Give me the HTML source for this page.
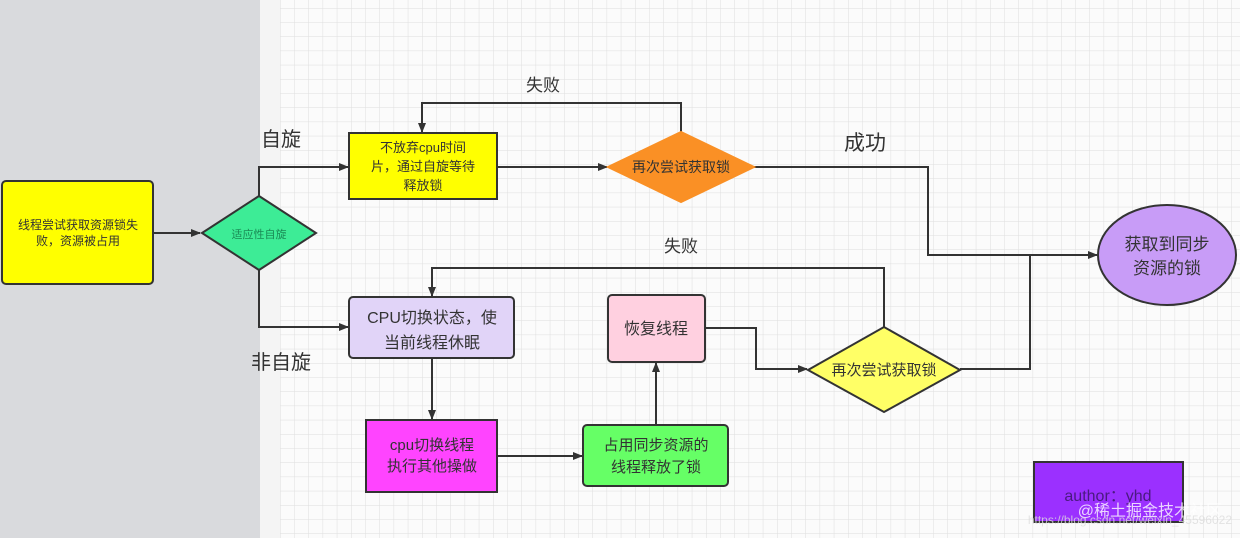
<!DOCTYPE html>
<html><head><meta charset="utf-8"><style>
html,body{margin:0;padding:0;}
body{width:1240px;height:538px;overflow:hidden;background:#fff;font-family:"Liberation Sans","Noto Sans CJK SC",sans-serif;}
</style></head><body>
<svg width="1240" height="538" xmlns="http://www.w3.org/2000/svg" style="display:block">
<defs>
<pattern id="g" x="280" y="8" width="14.2" height="14.2" patternUnits="userSpaceOnUse">
<path d="M0 0H14.2M0 0V14.2" stroke="#dedede" stroke-width="1" fill="none"/>
</pattern>
<marker id="a" markerWidth="10" markerHeight="8" refX="9" refY="4" orient="auto" markerUnits="userSpaceOnUse">
<path d="M0 0L10 4L0 8z" fill="#333"/>
</marker>
</defs>
<rect x="0" y="0" width="1240" height="538" fill="#fbfbfb"/>
<rect x="280" y="0" width="960" height="538" fill="url(#g)"/>
<rect x="0" y="0" width="260" height="538" fill="#d9dadd"/>
<rect x="260" y="0" width="20" height="538" fill="#f4f4f4"/>
<g stroke="#333" stroke-width="2" fill="none">
<path d="M153 233H200" marker-end="url(#a)"/>
<path d="M259 196V167H348" marker-end="url(#a)"/>
<path d="M259 270V327H348" marker-end="url(#a)"/>
<path d="M497 167H607" marker-end="url(#a)"/>
<path d="M681 132V103H422V132" marker-end="url(#a)"/>
<path d="M754 167H928V255H1097" marker-end="url(#a)"/>
<path d="M884 327V268H432V296" marker-end="url(#a)"/>
<path d="M432 358V419" marker-end="url(#a)"/>
<path d="M497 456H582" marker-end="url(#a)"/>
<path d="M656 425V363" marker-end="url(#a)"/>
<path d="M705 328H756V369H807" marker-end="url(#a)"/>
<path d="M960 369H1030V255"/>
</g>
<g stroke="#333" stroke-width="2">
<rect x="2" y="181" width="151" height="103" rx="4" fill="#ffff00"/>
<path d="M202 233L259 196L316 233L259 270z" fill="#3dec96"/>
<rect x="349" y="133" width="148" height="66" fill="#ffff00"/>
<path d="M608 167L681 132L754 167L681 202z" fill="#fa9025" stroke="#fa9025"/>
<ellipse cx="1167" cy="255" rx="69" ry="50" fill="#c89cf7"/>
<rect x="349" y="297" width="165" height="61" rx="4" fill="#e1d4f8"/>
<rect x="366" y="420" width="131" height="72" fill="#ff44ff"/>
<rect x="583" y="425" width="145" height="61" rx="4" fill="#66ff66"/>
<rect x="608" y="295" width="97" height="67" rx="4" fill="#ffd0e0"/>
<path d="M808 370L884 327L960 370L884 412z" fill="#ffff66"/>
<rect x="1034" y="462" width="149" height="60" fill="#9b30ff"/>
</g>
<g fill="#333" text-anchor="middle">
<text x="78" y="229" font-size="12">线程尝试获取资源锁失</text>
<text x="78" y="245" font-size="12">败，资源被占用</text>
<text x="259" y="238" font-size="11" fill="#1a8a55">适应性自旋</text>
<text x="281" y="146" font-size="20">自旋</text>
<text x="281" y="369" font-size="20">非自旋</text>
<text x="423" y="152" font-size="13">不放弃cpu时间</text>
<text x="423" y="171" font-size="13">片，通过自旋等待</text>
<text x="423" y="190" font-size="13">释放锁</text>
<text x="543" y="91" font-size="17">失败</text>
<text x="681" y="172" font-size="14">再次尝试获取锁</text>
<text x="865" y="150" font-size="21">成功</text>
<text x="1167" y="250" font-size="17">获取到同步</text>
<text x="1167" y="274" font-size="17">资源的锁</text>
<text x="681" y="252" font-size="17">失败</text>
<text x="432" y="323" font-size="16">CPU切换状态，使</text>
<text x="432" y="348" font-size="16">当前线程休眠</text>
<text x="656" y="334" font-size="16">恢复线程</text>
<text x="884" y="375" font-size="15">再次尝试获取锁</text>
<text x="432" y="450" font-size="15">cpu切换线程</text>
<text x="432" y="471" font-size="15">执行其他操做</text>
<text x="656" y="450" font-size="15">占用同步资源的</text>
<text x="656" y="472" font-size="15">线程释放了锁</text>
<text x="1108" y="501" font-size="16" fill="#4a1a80">author：yhd</text>
</g>
<g text-anchor="end">
<text x="1222" y="516" font-size="16" fill="#fff" opacity="0.8">@稀土掘金技术社区</text>
<text x="1232" y="524" font-size="12" fill="#ddd" opacity="0.8">https://blog.csdn.net/weixin_45596022</text>
</g>
</svg>
</body></html>
